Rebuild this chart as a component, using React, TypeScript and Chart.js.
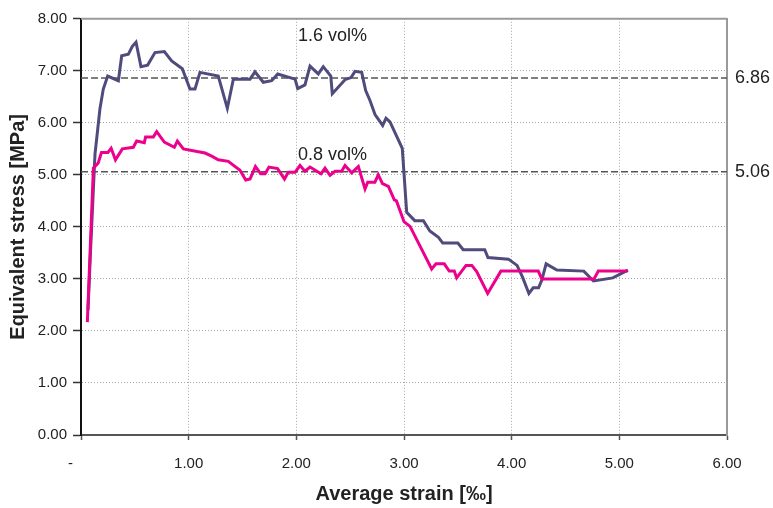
import { useEffect, useRef } from 'react';
import { Chart, registerables } from 'chart.js';

Chart.register(...registerables);

const FONT = '"Liberation Sans", Arial, Helvetica, sans-serif';

// Axis ranges and ticks
const strainTicks = [0, 1, 2, 3, 4, 5, 6];
const stressTicks = [0, 1, 2, 3, 4, 5, 6, 7, 8];

// Mean post-cracking stress levels shown on the right axis
const meanStress = [6.86, 5.06];

// 1.6 vol% fibre content
const strain16 = [0.065, 0.09, 0.13, 0.176, 0.207, 0.248, 0.347, 0.378, 0.44, 0.477, 0.511, 0.557, 0.619, 0.687, 0.774, 0.842, 0.941, 1.012, 1.059, 1.105, 1.275, 1.359, 1.415, 1.57, 1.616, 1.693, 1.771, 1.827, 1.988, 2.013, 2.08, 2.127, 2.204, 2.25, 2.32, 2.334, 2.452, 2.508, 2.545, 2.607, 2.644, 2.684, 2.731, 2.802, 2.833, 2.87, 2.984, 3.025, 3.1, 3.18, 3.24, 3.32, 3.36, 3.5, 3.55, 3.75, 3.78, 3.97, 4.05, 4.1, 4.16, 4.2, 4.25, 4.28, 4.32, 4.42, 4.67, 4.76, 4.94, 5.08];
const stress16 = [2.4, 3.6, 5.4, 6.27, 6.65, 6.9, 6.81, 7.29, 7.32, 7.47, 7.55, 7.08, 7.11, 7.35, 7.37, 7.19, 7.04, 6.65, 6.65, 6.97, 6.9, 6.28, 6.84, 6.84, 6.98, 6.78, 6.81, 6.94, 6.84, 6.66, 6.73, 7.09, 6.94, 7.08, 6.9, 6.56, 6.83, 6.87, 6.99, 6.97, 6.62, 6.43, 6.16, 5.95, 6.09, 6.02, 5.51, 4.28, 4.12, 4.12, 3.92, 3.8, 3.69, 3.69, 3.56, 3.56, 3.41, 3.38, 3.26, 3.04, 2.72, 2.83, 2.83, 2.98, 3.29, 3.17, 3.15, 2.96, 3.02, 3.17];

// 0.8 vol% fibre content
const strain08 = [0.059, 0.115, 0.16, 0.19, 0.25, 0.28, 0.32, 0.384, 0.486, 0.517, 0.588, 0.6, 0.672, 0.703, 0.774, 0.867, 0.895, 0.951, 1.152, 1.214, 1.275, 1.368, 1.477, 1.53, 1.57, 1.62, 1.67, 1.71, 1.746, 1.826, 1.89, 1.925, 1.988, 2.034, 2.08, 2.127, 2.229, 2.266, 2.313, 2.359, 2.421, 2.452, 2.514, 2.576, 2.638, 2.663, 2.73, 2.761, 2.8, 2.855, 2.91, 2.93, 3.0, 3.056, 3.257, 3.297, 3.374, 3.42, 3.467, 3.489, 3.576, 3.63, 3.675, 3.777, 3.9, 4.247, 4.28, 4.765, 4.805, 5.077];
const stress08 = [2.17, 5.13, 5.23, 5.43, 5.43, 5.51, 5.29, 5.5, 5.53, 5.65, 5.62, 5.73, 5.73, 5.83, 5.63, 5.53, 5.65, 5.5, 5.42, 5.36, 5.29, 5.26, 5.09, 4.9, 4.92, 5.16, 5.02, 5.02, 5.15, 5.12, 4.92, 5.05, 5.05, 5.18, 5.07, 5.15, 5.02, 5.13, 4.99, 5.07, 5.07, 5.18, 5.04, 5.16, 4.73, 4.86, 4.86, 5.0, 4.83, 4.78, 4.52, 4.5, 4.1, 4.01, 3.19, 3.29, 3.29, 3.15, 3.15, 3.02, 3.26, 3.26, 3.14, 2.72, 3.15, 3.15, 3.0, 3.0, 3.15, 3.15];

const seriesNames = ['1.6 vol%', '0.8 vol%'];
// Where each curve's name is written (strain, stress)
const nameAnchors = [
  { x: 2.015, y: 7.66 },
  { x: 2.015, y: 5.38 },
];

const COLOR_16 = '#4f4b7c';
const COLOR_08 = '#ec008c';

const toPoints = (xs: number[], ys: number[]) => xs.map((x, i) => ({ x, y: ys[i] }));

const frameAndNames = {
  id: 'frameAndNames',
  afterDraw(chart: any) {
    const { ctx, chartArea: a, scales } = chart;
    ctx.save();
    // solid top frame line
    ctx.strokeStyle = '#9a9a9a';
    ctx.lineWidth = 2;
    ctx.beginPath();
    ctx.moveTo(a.left, a.top);
    ctx.lineTo(a.right, a.top);
    ctx.stroke();
    // curve names
    ctx.fillStyle = '#222';
    ctx.font = `18px ${FONT}`;
    ctx.textAlign = 'left';
    ctx.textBaseline = 'middle';
    seriesNames.forEach((name, i) => {
      const p = nameAnchors[i];
      ctx.fillText(name, scales.x.getPixelForValue(p.x), scales.y.getPixelForValue(p.y));
    });
    ctx.restore();
  },
};

export default function App() {
  const canvasRef = useRef<HTMLCanvasElement | null>(null);

  useEffect(() => {
    if (!canvasRef.current) return;
    const refLine = (v: number) => ({
      type: 'line' as const,
      data: [
        { x: strainTicks[0], y: v },
        { x: strainTicks[strainTicks.length - 1], y: v },
      ],
      borderColor: '#555',
      borderWidth: 1.5,
      borderDash: [7, 3],
      pointRadius: 0,
      fill: false,
    });

    const chart = new Chart(canvasRef.current, {
      type: 'line',
      data: {
        datasets: [
          {
            label: seriesNames[1],
            data: toPoints(strain08, stress08),
            borderColor: COLOR_08,
            borderWidth: 3,
            pointRadius: 0,
            tension: 0,
            fill: false,
          },
          {
            label: seriesNames[0],
            data: toPoints(strain16, stress16),
            borderColor: COLOR_16,
            borderWidth: 3,
            pointRadius: 0,
            tension: 0,
            fill: false,
          },
          refLine(meanStress[0]),
          refLine(meanStress[1]),
        ],
      },
      options: {
        animation: false,
        responsive: false,
        devicePixelRatio: 1,
        layout: { padding: { top: 14, left: 0, right: 0, bottom: 0 } },
        plugins: {
          legend: { display: false },
          tooltip: { enabled: false },
        },
        scales: {
          x: {
            type: 'linear',
            min: strainTicks[0],
            max: strainTicks[strainTicks.length - 1],
            afterBuildTicks: (s: any) => {
              s.ticks = strainTicks.map((value) => ({ value }));
            },
            afterFit: (s: any) => {
              s.height = 73;
            },
            ticks: {
              color: '#222',
              font: { family: FONT, size: 15 },
              padding: 15,
              maxRotation: 0,
              callback: (v: any) => (Number(v) === 0 ? '-     ' : Number(v).toFixed(2)),
            },
            grid: {
              color: '#a8a8a8',
              lineWidth: 1,
              tickColor: '#555',
              tickLength: 5,
              tickWidth: 1.5,
              tickBorderDash: [],
            },
            border: { color: '#555', width: 2, dash: [1, 2] },
            title: {
              display: true,
              text: 'Average strain [‰]',
              color: '#222',
              font: { family: FONT, size: 20, weight: 'bold' },
              padding: { top: 0, bottom: 2 },
            },
          },
          y: {
            type: 'linear',
            position: 'left',
            min: stressTicks[0],
            max: stressTicks[stressTicks.length - 1],
            afterBuildTicks: (s: any) => {
              s.ticks = stressTicks.map((value) => ({ value }));
            },
            afterFit: (s: any) => {
              s.width = 81;
            },
            ticks: {
              color: '#222',
              font: { family: FONT, size: 15 },
              padding: 6,
              callback: (v: any) => Number(v).toFixed(2),
            },
            grid: {
              color: '#a8a8a8',
              lineWidth: 1,
              tickColor: '#333',
              tickLength: 8,
              tickWidth: 1.5,
              tickBorderDash: [],
            },
            border: { color: '#111', width: 2, dash: [1, 2] },
            title: {
              display: true,
              text: 'Equivalent stress [MPa]',
              color: '#222',
              font: { family: FONT, size: 20, weight: 'bold' },
              padding: { top: 6, bottom: 0 },
            },
          },
          y2: {
            type: 'linear',
            position: 'right',
            min: stressTicks[0],
            max: stressTicks[stressTicks.length - 1],
            afterBuildTicks: (s: any) => {
              s.ticks = meanStress.map((value) => ({ value }));
            },
            afterFit: (s: any) => {
              s.width = 46;
            },
            ticks: {
              color: '#222',
              font: { family: FONT, size: 18 },
              padding: 8,
              callback: (v: any) => Number(v).toFixed(2),
            },
            grid: { drawOnChartArea: false, drawTicks: false },
            border: { color: '#9a9a9a', width: 2 },
          },
        },
      },
      plugins: [frameAndNames],
    });

    return () => chart.destroy();
  }, []);

  return (
    <div style={{ position: 'fixed', left: 0, top: 0, width: 773, height: 508, background: '#fff' }}>
      <canvas ref={canvasRef} width={773} height={508} style={{ display: 'block' }} />
    </div>
  );
}
